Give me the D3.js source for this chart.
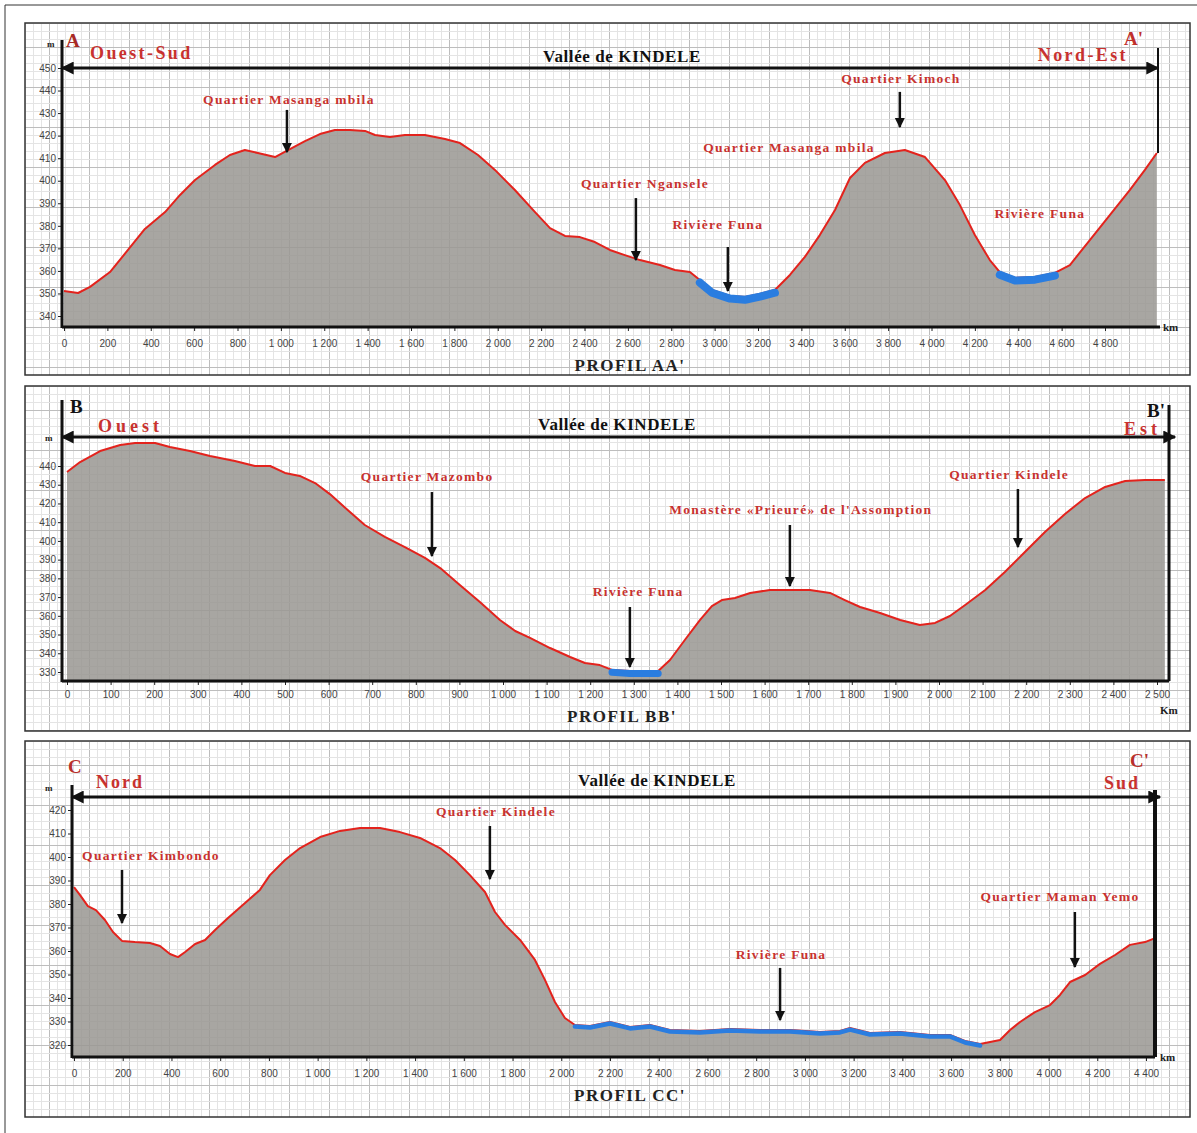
<!DOCTYPE html>
<html>
<head>
<meta charset="utf-8">
<script src="https://cdn.jsdelivr.net/npm/d3@7"></script>
<style>
  body { margin: 0; background: #fff; }
  svg { display: block; }
  text { font-family: "Liberation Serif", "DejaVu Serif", serif; font-weight: bold; }
  .tick text { font-family: "Liberation Sans", Arial, sans-serif; font-weight: normal; font-size: 10px; fill: #444; }
  .tick line { stroke: #222; }
</style>
</head>
<body>
<svg id="chart" width="1197" height="1133"></svg>
<script>
// profiles: [distance (m), elevation (m)]
var profileA = [[0,351.1],[65,350.2],[120,352.9],[212,359.5],[295,369.3],[373,378.6],[466,386.1],[535,393.7],
  [604,400.3],[696,407],[765,411.4],[834,413.6],[894,412.3],[973,410.5],[1033,413.6],[1111,417.6],[1180,420.7],
  [1249,422.5],[1319,422.5],[1388,422.1],[1434,420.3],[1503,419.4],[1572,420.3],[1664,420.3],[1757,418.5],
  [1826,416.7],[1909,411.4],[1987,404.8],[2079,395.9],[2172,386.1],[2241,379],[2310,375.5],[2379,375],
  [2448,372.8],[2517,369.3],[2586,367],[2656,364.8],[2748,362.6],[2817,360.4],[2886,359.5],[2932,356],
  [2988,351.5],[3071,348.9],[3140,348.4],[3209,349.8],[3278,351.5],[3347,358.2],[3416,366.2],[3485,375.9],
  [3555,387],[3624,401.2],[3693,407.9],[3785,412.3],[3877,413.6],[3970,410.5],[4062,400.3],[4131,389.2],
  [4200,375.9],[4269,364.8],[4315,359.5],[4385,356.9],[4477,357.3],[4569,359.1],[4638,362.6],[4730,373.7],
  [4823,384.8],[4915,395.9],[4984,404.8],[5039,412.3]];

var profileB = [[0,436.8],[30,442.1],[76,448],[122,451.2],[156,452.3],[202,452.3],[236,450.1],[282,448],
  [328,445.3],[385,442.7],[431,440],[466,440],[500,436.3],[534,434.7],[569,430.9],[603,425],[649,415.4],
  [683,408.5],[729,402.1],[775,396.7],[821,390.9],[856,385.5],[901,376.5],[947,367.4],[993,357.8],
  [1028,351.9],[1062,348.2],[1108,342.8],[1154,338],[1188,334.8],[1222,333.7],[1250,331.1],[1291,330.5],
  [1356,330.5],[1383,336.4],[1417,347.1],[1452,357.8],[1479,365.2],[1502,368.4],[1532,369.5],[1567,372.2],
  [1612,373.8],[1658,373.8],[1704,373.8],[1750,372.2],[1784,368.4],[1819,364.7],[1865,361.5],[1911,357.8],
  [1956,355.1],[1991,356.2],[2025,359.9],[2060,365.8],[2106,373.8],[2151,383.4],[2197,394.1],[2243,404.8],
  [2289,414.4],[2335,422.9],[2381,428.8],[2427,432],[2472,432.5],[2518,432.5]];

var profileC = [[0,387.2],[25,383.8],[57,379.1],[90,377.4],[127,373.2],[160,368.1],[197,364.3],[250,363.8],
  [312,363.4],[353,362.1],[394,358.7],[427,357.4],[456,359.6],[497,363],[538,364.7],[579,368.9],[632,374],
  [702,380.4],[763,386],[804,392.3],[866,398.7],[928,403.8],[1010,408.5],[1092,411.1],[1174,412.3],
  [1256,412.3],[1338,410.6],[1420,408.1],[1502,403.8],[1564,398.7],[1625,392.3],[1687,385.1],[1728,376.6],
  [1769,371.1],[1831,364.7],[1892,356.2],[1933,347.7],[1974,338.3],[2015,331.5],[2056,328.5],[2118,328.1],
  [2200,329.8],[2282,327.7],[2364,328.5],[2446,326.4],[2569,326],[2692,326.8],[2816,326.4],[2939,326.4],
  [3062,325.5],[3144,326],[3185,327.2],[3267,325.1],[3390,325.5],[3513,324.3],[3595,324.3],[3657,321.7],
  [3719,320.4],[3760,321.3],[3801,322.1],[3842,326.4],[3883,329.8],[3944,334],[4006,337],[4047,341.3],
  [4088,346.8],[4150,349.8],[4211,354.5],[4273,358.3],[4334,362.6],[4396,363.8],[4437,365.5]];

// river stretches (distance from, to)
var riverA = [[2932, 3278], [4315, 4569]];
var riverB = [[1250, 1356]];
var riverC = [[2056, 3719]];

// tick labels
var xTicksA = [0,200,400,600,800,1000,1200,1400,1600,1800,2000,2200,2400,2600,2800,3000,3200,3400,3600,3800,4000,4200,4400,4600,4800];
var yTicksA = [340,350,360,370,380,390,400,410,420,430,440,450];
var xTicksB = [0,100,200,300,400,500,600,700,800,900,1000,1100,1200,1300,1400,1500,1600,1700,1800,1900,2000,2100,2200,2300,2400,2500];
var yTicksB = [330,340,350,360,370,380,390,400,410,420,430,440];
var xTicksC = [0,200,400,600,800,1000,1200,1400,1600,1800,2000,2200,2400,2600,2800,3000,3200,3400,3600,3800,4000,4200,4400];
var yTicksC = [320,330,340,350,360,370,380,390,400,410,420];

// annotations: label at (d, e), arrow at arrowD from elevation 'from' to 'to'
var notesA = [
  {text: "Quartier Masanga mbila", d: 1037, e: 434, arrowD: 1028, from: 431.4, to: 412.7},
  {text: "Quartier Kimoch", d: 3859, e: 443.3, arrowD: 3854, from: 439.4, to: 423.8},
  {text: "Quartier Masanga mbila", d: 3343, e: 412.7},
  {text: "Quartier Ngansele", d: 2679, e: 396.8, arrowD: 2637, from: 392.3, to: 364.8},
  {text: "Rivière Funa", d: 3015, e: 378.6, arrowD: 3061, from: 370.6, to: 351.1},
  {text: "Rivière Funa", d: 4500, e: 383.5}
];
var notesB = [
  {text: "Quartier Mazombo", d: 826, e: 432, arrowD: 837, from: 426.1, to: 391.9},
  {text: "Rivière Funa", d: 1310, e: 370.6, arrowD: 1291, from: 364.7, to: 332.7},
  {text: "Monastère «Prieuré» de l'Assomption", d: 1683, e: 414.4, arrowD: 1658, from: 408.5, to: 375.9},
  {text: "Quartier Kindele", d: 2161, e: 433.1, arrowD: 2181, from: 427.7, to: 396.7}
];
var notesC = [
  {text: "Quartier Kimbondo", d: 316, e: 398.7, arrowD: 197, from: 394.5, to: 371.9},
  {text: "Quartier Kindele", d: 1732, e: 417.4, arrowD: 1707, from: 413.2, to: 390.6},
  {text: "Rivière Funa", d: 2902, e: 356.6, arrowD: 2898, from: 352.8, to: 330.6},
  {text: "Quartier Maman Yemo", d: 4047, e: 381.3, arrowD: 4108, from: 376.6, to: 353.2}
];

// layout of the three panels
var panels = [
  {profile: profileA, rivers: riverA, xt: xTicksA, yt: yTicksA, notes: notesA,
   box: [25, 23, 1165, 352], xd: [0, 4800], xr: [64, 1105], yd: [340, 450], yr: [316, 68],
   axisX: 62, axisY: 327, yTop: 40, xEnd: 1160, xPad: 9, riverW: 8,
   arrowY: 68, arrowX: [62, 1158], endX: 1158, endTop: 48, endW: 2,
   left: "A", leftCol: "#a82a26", leftPos: [66, 47], right: "A'", rightCol: "#c0302c", rightPos: [1124, 45],
   dirL: "Ouest-Sud", dirLPos: [90, 59], dirLSp: 2.4, dirR: "Nord-Est", dirRPos: [1128, 61], dirRSp: 2.4,
   title: [622, 62], profTitle: "PROFIL AA'", profPos: [630, 371],
   mPos: [47, 47], unit: "km", unitPos: [1163, 331]},
  {profile: profileB, rivers: riverB, xt: xTicksB, yt: yTicksB, notes: notesB,
   box: [25, 386, 1165, 345], xd: [0, 2500], xr: [67, 1157], yd: [330, 440], yr: [672, 466],
   axisX: 62, axisY: 681, yTop: 400, xEnd: 1169, xPad: 6, riverW: 7,
   arrowY: 437, arrowX: [62, 1175], endX: 1169, endTop: 405, endW: 3,
   left: "B", leftCol: "#111", leftPos: [70, 413], right: "B'", rightCol: "#111", rightPos: [1147, 417],
   dirL: "Ouest", dirLPos: [98, 432], dirLSp: 4, dirR: "Est", dirRPos: [1161, 435], dirRSp: 4,
   title: [617, 430], profTitle: "PROFIL BB'", profPos: [622, 722],
   mPos: [45, 441], unit: "Km", unitPos: [1160, 714]},
  {profile: profileC, rivers: riverC, xt: xTicksC, yt: yTicksC, notes: notesC,
   box: [25, 741, 1165, 376], xd: [0, 4400], xr: [74, 1146], yd: [320, 420], yr: [1045, 810],
   axisX: 72, axisY: 1057, yTop: 785, xEnd: 1155, xPad: 9, riverW: 4.5,
   arrowY: 797, arrowX: [72, 1160], endX: 1155, endTop: 790, endW: 4,
   left: "C", leftCol: "#b8302c", leftPos: [68, 773], right: "C'", rightCol: "#b8302c", rightPos: [1130, 767],
   dirL: "Nord", dirLPos: [96, 788], dirLSp: 2, dirR: "Sud", dirRPos: [1140, 789], dirRSp: 2,
   title: [657, 786], profTitle: "PROFIL CC'", profPos: [630, 1101],
   mPos: [45, 791], unit: "km", unitPos: [1160, 1061]}
];

var red = "#c8322f";
var fmt = d3.formatLocale({decimal: ",", thousands: " ", grouping: [3], currency: ["", ""]}).format(",");

var svg = d3.select("#chart");
var defs = svg.append("defs");

defs.append("marker").attr("id", "head")
  .attr("viewBox", "0 0 10 10").attr("refX", 9).attr("refY", 5)
  .attr("markerWidth", 10).attr("markerHeight", 11).attr("markerUnits", "userSpaceOnUse")
  .attr("orient", "auto")
  .append("path").attr("d", "M0,0L10,5L0,10Z").attr("fill", "#111");

defs.append("marker").attr("id", "big")
  .attr("viewBox", "0 0 10 10").attr("refX", 9).attr("refY", 5)
  .attr("markerWidth", 18).attr("markerHeight", 13).attr("markerUnits", "userSpaceOnUse")
  .attr("orient", "auto-start-reverse")
  .append("path").attr("d", "M0,0L10,5L0,10Z").attr("fill", "#111");

// page frame
svg.append("path").attr("d", "M5,1133V5H1197").attr("fill", "none").attr("stroke", "#333").attr("stroke-width", 1);

panels.forEach(function(P, i) {
  var g = svg.append("g");
  var b = P.box;

  // squared paper
  defs.append("clipPath").attr("id", "clip" + i)
    .append("rect").attr("x", b[0]).attr("y", b[1]).attr("width", b[2]).attr("height", b[3]);
  var grid = g.append("g").attr("clip-path", "url(#clip" + i + ")");
  grid.append("rect").attr("x", b[0]).attr("y", b[1]).attr("width", b[2]).attr("height", b[3]).attr("fill", "#fff");
  for (var k = 0; k * 8 <= b[2]; k++) {
    grid.append("line").attr("x1", b[0] + k * 8 + 0.5).attr("x2", b[0] + k * 8 + 0.5)
      .attr("y1", b[1]).attr("y2", b[1] + b[3])
      .attr("stroke", k % 5 == 3 ? "#bdbdbd" : "#e4e4e4").attr("stroke-width", 1);
  }
  for (var k = 0; k * 8 <= b[3]; k++) {
    grid.append("line").attr("y1", b[1] + k * 8 + 0.5).attr("y2", b[1] + k * 8 + 0.5)
      .attr("x1", b[0]).attr("x2", b[0] + b[2])
      .attr("stroke", k % 5 == 3 ? "#bdbdbd" : "#e4e4e4").attr("stroke-width", 1);
  }

  var x = d3.scaleLinear().domain(P.xd).range(P.xr);
  var y = d3.scaleLinear().domain(P.yd).range(P.yr);

  // terrain
  var area = d3.area()
    .x(function(d) { return x(d[0]); })
    .y0(P.axisY)
    .y1(function(d) { return y(d[1]); });
  g.append("path").datum(P.profile).attr("d", area)
    .attr("fill", "#9a9793").attr("fill-opacity", 0.86);

  var line = d3.line()
    .x(function(d) { return x(d[0]); })
    .y(function(d) { return y(d[1]); });
  g.append("path").datum(P.profile).attr("d", line)
    .attr("fill", "none").attr("stroke", "#e3231d").attr("stroke-width", 2).attr("stroke-linejoin", "round");

  // river Funa
  P.rivers.forEach(function(r) {
    var seg = P.profile.filter(function(d) { return d[0] >= r[0] && d[0] <= r[1]; });
    g.append("path").datum(seg).attr("d", line)
      .attr("transform", "translate(0," + (P.riverW / 3) + ")")
      .attr("fill", "none").attr("stroke", "#2a7de0").attr("stroke-width", P.riverW)
      .attr("stroke-linecap", "round").attr("stroke-linejoin", "round");
  });

  // axes
  g.append("g").attr("transform", "translate(" + P.axisX + ",0)")
    .call(d3.axisLeft(y).tickValues(P.yt).tickSize(4).tickPadding(2))
    .call(function(a) { a.select(".domain").remove(); });
  g.append("g").attr("transform", "translate(0," + P.axisY + ")")
    .call(d3.axisBottom(x).tickValues(P.xt).tickSize(4).tickPadding(P.xPad).tickFormat(fmt))
    .call(function(a) { a.select(".domain").remove(); });

  g.append("line").attr("x1", P.axisX).attr("x2", P.axisX).attr("y1", P.yTop).attr("y2", P.axisY + 1)
    .attr("stroke", "#111").attr("stroke-width", 3);
  g.append("line").attr("x1", P.axisX).attr("x2", P.xEnd).attr("y1", P.axisY).attr("y2", P.axisY)
    .attr("stroke", "#111").attr("stroke-width", 3);

  var last = P.profile[P.profile.length - 1];
  g.append("line").attr("x1", P.endX).attr("x2", P.endX).attr("y1", P.endTop)
    .attr("y2", i == 0 ? y(last[1]) : P.axisY)
    .attr("stroke", "#111").attr("stroke-width", P.endW);

  // valley arrow
  g.append("line").attr("x1", P.arrowX[0]).attr("x2", P.arrowX[1]).attr("y1", P.arrowY).attr("y2", P.arrowY)
    .attr("stroke", "#111").attr("stroke-width", 3)
    .attr("marker-start", "url(#big)").attr("marker-end", "url(#big)");

  // annotations
  P.notes.forEach(function(n) {
    g.append("text").attr("x", x(n.d)).attr("y", y(n.e)).attr("text-anchor", "middle")
      .attr("fill", red).attr("font-size", 13.5).style("letter-spacing", "1.3px")
      .text(n.text);
    if (n.arrowD !== undefined) {
      g.append("line").attr("x1", x(n.arrowD)).attr("x2", x(n.arrowD))
        .attr("y1", y(n.from)).attr("y2", y(n.to))
        .attr("stroke", "#111").attr("stroke-width", 2.5).attr("marker-end", "url(#head)");
    }
  });

  // labels
  g.append("text").attr("x", P.leftPos[0]).attr("y", P.leftPos[1]).attr("font-size", 19)
    .attr("fill", P.leftCol).text(P.left);
  g.append("text").attr("x", P.rightPos[0]).attr("y", P.rightPos[1]).attr("font-size", 19)
    .attr("fill", P.rightCol).text(P.right);
  g.append("text").attr("x", P.dirLPos[0]).attr("y", P.dirLPos[1]).attr("font-size", 18)
    .attr("fill", red).style("letter-spacing", P.dirLSp + "px").text(P.dirL);
  g.append("text").attr("x", P.dirRPos[0]).attr("y", P.dirRPos[1]).attr("font-size", 18)
    .attr("text-anchor", "end").attr("fill", red).style("letter-spacing", P.dirRSp + "px").text(P.dirR);
  g.append("text").attr("x", P.title[0]).attr("y", P.title[1]).attr("font-size", 17)
    .attr("text-anchor", "middle").attr("fill", "#111").style("letter-spacing", "0.6px")
    .text("Vallée de KINDELE");
  g.append("text").attr("x", P.profPos[0]).attr("y", P.profPos[1]).attr("font-size", 17)
    .attr("text-anchor", "middle").attr("fill", "#222").style("letter-spacing", "1.5px")
    .text(P.profTitle);
  g.append("text").attr("x", P.mPos[0]).attr("y", P.mPos[1]).attr("font-size", 9)
    .attr("fill", "#222").text("m");
  g.append("text").attr("x", P.unitPos[0]).attr("y", P.unitPos[1]).attr("font-size", 11)
    .attr("fill", "#222").text(P.unit);

  // panel frame
  g.append("rect").attr("x", b[0]).attr("y", b[1]).attr("width", b[2]).attr("height", b[3])
    .attr("fill", "none").attr("stroke", "#333").attr("stroke-width", 1.5);
});
</script>
</body>
</html>
